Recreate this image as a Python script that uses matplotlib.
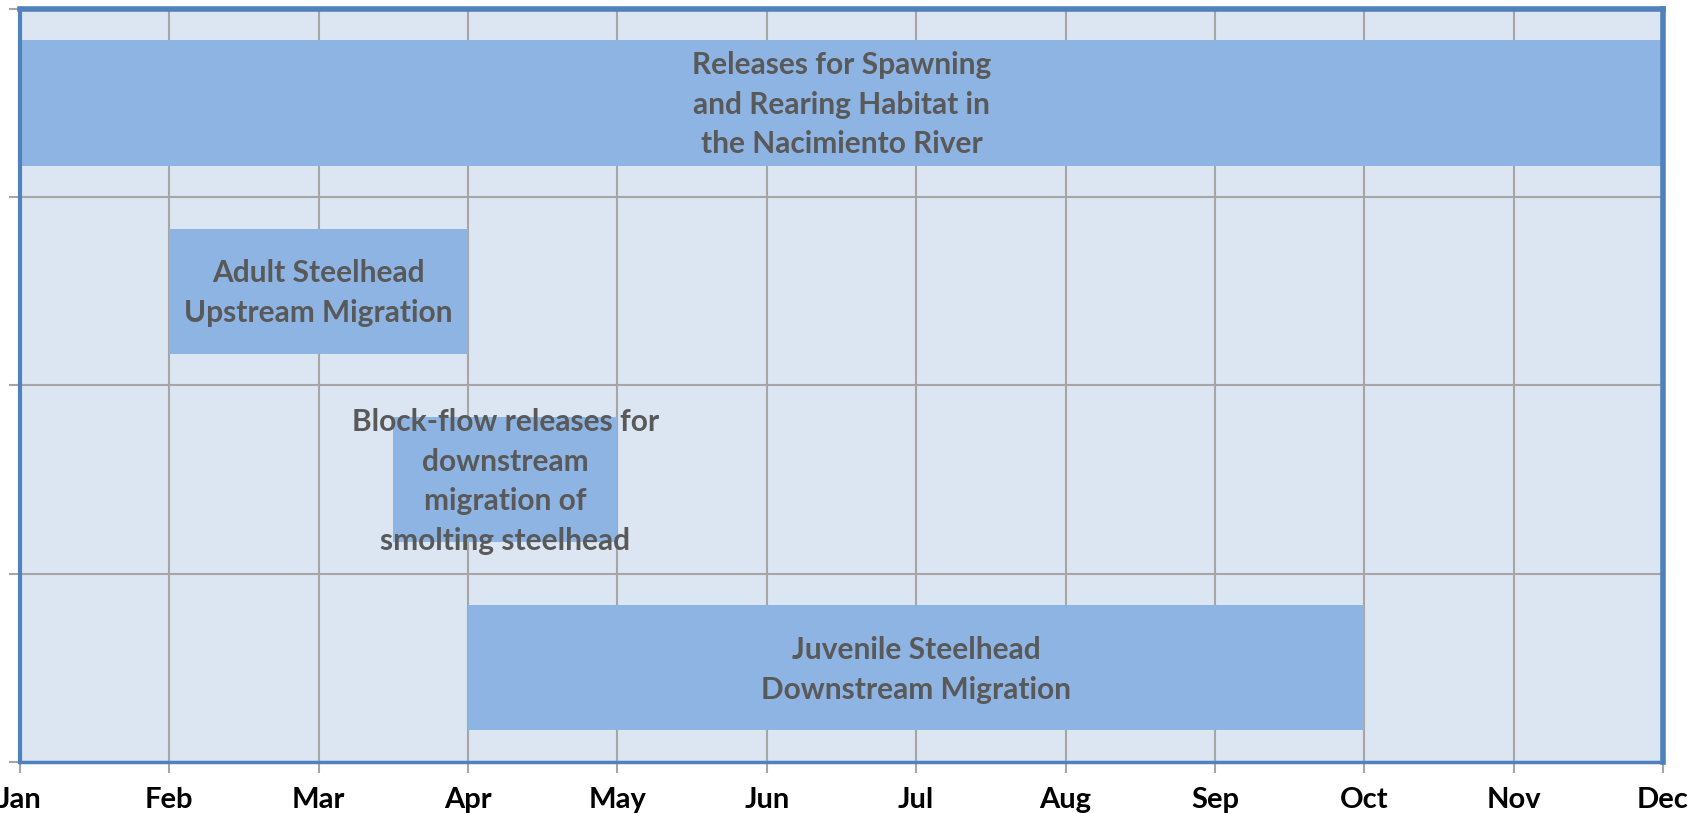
import matplotlib.pyplot as plt

# activities, bottom row first
tasks = [
    "Juvenile Steelhead\nDownstream Migration",
    "Block-flow releases for\ndownstream\nmigration of\nsmolting steelhead",
    "Adult Steelhead\nUpstream Migration",
    "Releases for Spawning\nand Rearing Habitat in\nthe Nacimiento River",
]
# start / end in months after Jan 1
starts = [3, 2.5, 1, 0]
ends = [9, 4, 3, 11]
months = ["Jan", "Feb", "Mar", "Apr", "May", "Jun", "Jul", "Aug", "Sep", "Oct", "Nov", "Dec"]

plt.rcParams['font.family'] = ['Lato', 'DejaVu Sans']

fig = plt.figure(figsize=(17.06, 8.13), dpi=100)
ax = fig.add_axes([0.0117, 0.0627, 0.9631, 0.9263])
ax.set_facecolor('#DCE6F2')

rows = range(len(tasks))
widths = [e - s for s, e in zip(starts, ends)]
ax.barh(rows, widths, left=starts, height=0.665, color='#8EB4E3', zorder=2)

for i, label in enumerate(tasks):
    ax.text((starts[i] + ends[i]) / 2, i - 0.01, label, ha='center', va='center',
            fontsize=21.5, fontweight='bold', color='#595959', linespacing=1.5, zorder=3)

ax.set_xlim(0, 11)
ax.set_ylim(-0.5, 3.5)
ax.set_xticks(range(len(months)))
ax.set_xticklabels(months, fontsize=21, fontweight='bold', color='black')
ax.set_yticks([-0.5, 0.5, 1.5, 2.5, 3.5])
ax.set_yticklabels([])
ax.tick_params(axis='both', length=8, width=1.5, color='#A6A6A6', pad=10)
ax.grid(True, color='#A6A6A6', linewidth=1.5, zorder=1)
ax.set_axisbelow(True)

for side, lw in [('left', 3), ('bottom', 2.5), ('top', 4), ('right', 4)]:
    ax.spines[side].set_color('#4F81BD')
    ax.spines[side].set_linewidth(lw)

fig.savefig('out.png', dpi=100)
